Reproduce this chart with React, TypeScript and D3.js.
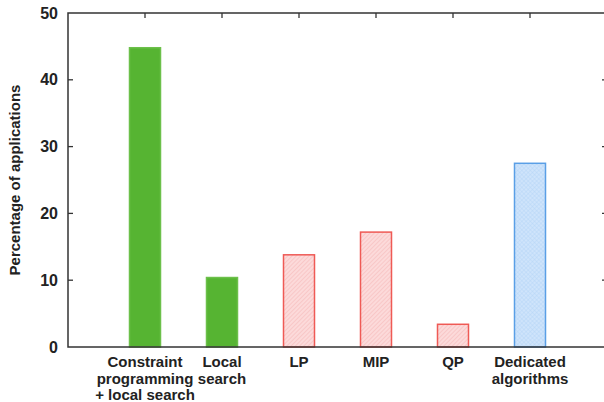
import React from "react";
import * as d3 from "d3";

const categories: string[][] = [
  ["Constraint", "programming", "+ local search"],
  ["Local", "search"],
  ["LP"],
  ["MIP"],
  ["QP"],
  ["Dedicated", "algorithms"],
];
const values = [44.8, 10.4, 13.8, 17.2, 3.4, 27.5];
const kinds = ["green", "green", "red", "red", "red", "blue"];
const yTicks = [0, 10, 20, 30, 40, 50];
const yTitle = "Percentage of applications";

const W = 604;
const H = 402;
const left = 68;
const right = 607;
const top = 13;
const bottom = 347;

export default function App() {
  const x = d3.scaleLinear().domain([0, 7]).range([left, right]);
  const y = d3.scaleLinear().domain([0, 50]).range([bottom, top]);
  const bw = 31;
  const font = "Liberation Sans, Arial, sans-serif";
  const fillFor = (k: string) =>
    k === "green" ? "#56b432" : k === "red" ? "url(#hatchRed)" : "url(#hatchBlue)";
  const strokeFor = (k: string) =>
    k === "green" ? "#6cc04a" : k === "red" ? "#ef5a55" : "#5a9fe6";
  return (
    <svg
      width={W}
      height={H}
      style={{ position: "absolute", left: 0, top: 0, background: "#fff" }}
      fontFamily={font}
    >
      <defs>
        <pattern id="hatchRed" width="3" height="3" patternUnits="userSpaceOnUse" patternTransform="rotate(45)">
          <rect width="3" height="3" fill="#fcdada" />
          <line x1="0" y1="0" x2="0" y2="3" stroke="#f4b4b4" strokeWidth="1" />
        </pattern>
        <pattern id="hatchBlue" width="3" height="3" patternUnits="userSpaceOnUse" patternTransform="rotate(45)">
          <rect width="3" height="3" fill="#cfe4fb" />
          <line x1="0" y1="0" x2="0" y2="3" stroke="#b3d3f6" strokeWidth="0.8" />
          <line x1="0" y1="0" x2="3" y2="0" stroke="#b3d3f6" strokeWidth="0.8" />
        </pattern>
      </defs>
      {values.map((v, i) => (
        <rect
          key={i}
          x={x(i + 1) - bw / 2}
          y={y(v)}
          width={bw}
          height={y(0) - y(v)}
          fill={fillFor(kinds[i])}
          stroke={strokeFor(kinds[i])}
          strokeWidth={1.5}
        />
      ))}
      <rect x={left} y={top} width={right - left} height={bottom - top} fill="none" stroke="#333" strokeWidth={1.5} />
      {yTicks.map((t) => (
        <g key={t}>
          {t > 0 && t < 50 && (
            <>
              <line x1={left} x2={left + 5} y1={y(t)} y2={y(t)} stroke="#333" strokeWidth={1.3} />
              <line x1={right - 5} x2={right} y1={y(t)} y2={y(t)} stroke="#333" strokeWidth={1.3} />
            </>
          )}
          <text x={left - 10} y={y(t)} dy="0.35em" textAnchor="end" fontSize={16} fontWeight="bold" fill="#222">
            {t}
          </text>
        </g>
      ))}
      {values.map((_, i) => (
        <line key={i} x1={x(i + 1)} x2={x(i + 1)} y1={top} y2={top + 5} stroke="#333" strokeWidth={1.3} />
      ))}
      {categories.map((lines, i) => (
        <text key={i} x={x(i + 1)} y={367} textAnchor="middle" fontSize={15} fontWeight="bold" fill="#222">
          {lines.map((l, j) => (
            <tspan key={j} x={x(i + 1)} dy={j === 0 ? 0 : 16.5}>
              {l}
            </tspan>
          ))}
        </text>
      ))}
      <text
        transform={`translate(20, ${(top + bottom) / 2}) rotate(-90)`}
        textAnchor="middle"
        fontSize={15}
        fontWeight="bold"
        fill="#222"
      >
        {yTitle}
      </text>
    </svg>
  );
}
